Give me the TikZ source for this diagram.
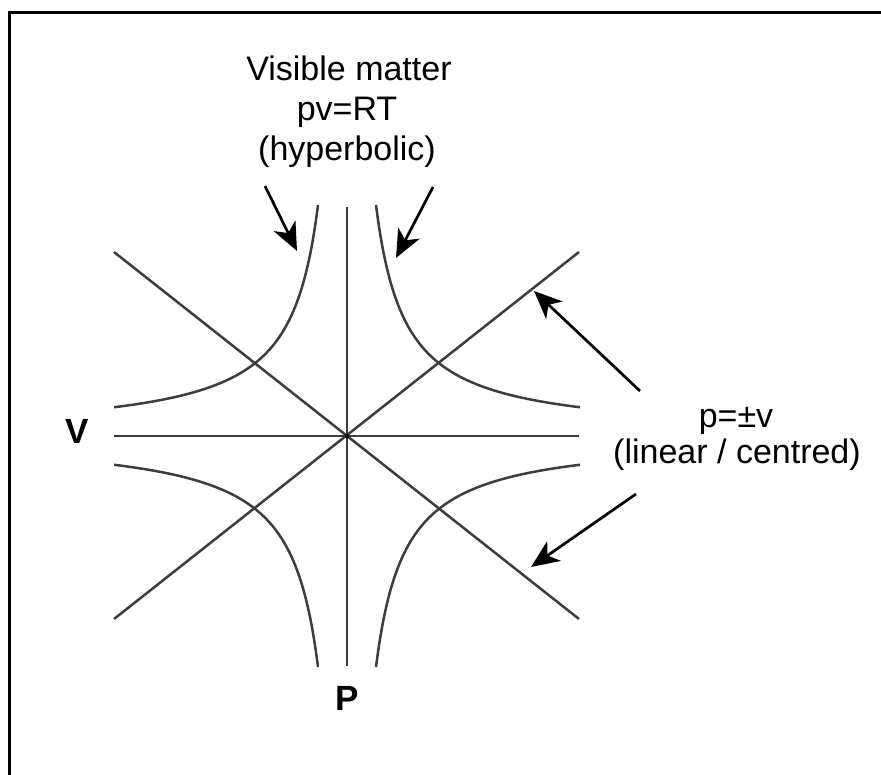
\documentclass[tikz,border=0pt]{standalone}
\usepackage{fontspec}
\setmainfont{Liberation Sans}
\usetikzlibrary{arrows.meta}
\begin{document}
\begin{tikzpicture}[x=1pt,y=-1pt,
  curve/.style={line width=2.5pt, draw=black!76},
  pointer/.style={line width=2.7pt, draw=black, -{Stealth[length=28pt,width=24pt,inset=8pt]}},
  lbl/.style={anchor=base, font=\fontsize{34}{40}\selectfont, inner sep=0pt},
  blbl/.style={lbl, font=\fontsize{35}{40}\selectfont\bfseries}]
\useasboundingbox (0,0) rectangle (881,774);
% frame (only top and left edges visible)
\draw[line width=3pt] (9.5,790) -- (9.5,12.5) -- (895,12.5);
% axes and diagonals
\coordinate (O) at (347,436);
\coordinate (L) at (114,436);
\coordinate (R) at (579,436);
\coordinate (T) at (347,207);
\coordinate (B) at (347,666);
\coordinate (TL) at (114,252);
\coordinate (BR) at (579,619);
\coordinate (BL) at (114,619);
\coordinate (TR) at (579,252);
\draw[curve] (L) -- (R);
\draw[curve] (T) -- (B);
\draw[curve] (TL) -- (BR);
\draw[curve] (BL) -- (TR);
\fill[black] (O) circle (2.4pt);
% hyperbolas pv = const
\draw[curve] plot[domain=29:233, samples=160, smooth] ({347-\x},{436-6700/\x});
\draw[curve] plot[domain=29:233, samples=160, smooth] ({347+\x},{436-6700/\x});
\draw[curve] plot[domain=29:233, samples=160, smooth] ({347-\x},{436+6700/\x});
\draw[curve] plot[domain=29:233, samples=160, smooth] ({347+\x},{436+6700/\x});
% labels
\node[lbl] (vis) at (349,80) {Visible matter};
\node[lbl] (pv) at (347,120) {pv=RT};
\node[lbl] (hyp) at (347,160) {(hyperbolic)};
\node[lbl] (pm) at (736,427) {p=±v};
\node[lbl] (lin) at (737,463) {(linear / centred)};
\node[blbl] (V) at (77,443) {V};
\node[blbl] (P) at (347,710) {P};
% pointers
\coordinate (a1s) at (265,186);
\coordinate (a1e) at (297,251);
\coordinate (a2s) at (433,187);
\coordinate (a2e) at (396,258);
\coordinate (a3s) at (640,391);
\coordinate (a3e) at (534,291);
\coordinate (a4s) at (636,494);
\coordinate (a4e) at (531,567);
\draw[pointer] (a1s) -- (a1e);
\draw[pointer] (a2s) -- (a2e);
\draw[pointer] (a3s) -- (a3e);
\draw[pointer] (a4s) -- (a4e);
\end{tikzpicture}
\end{document}
